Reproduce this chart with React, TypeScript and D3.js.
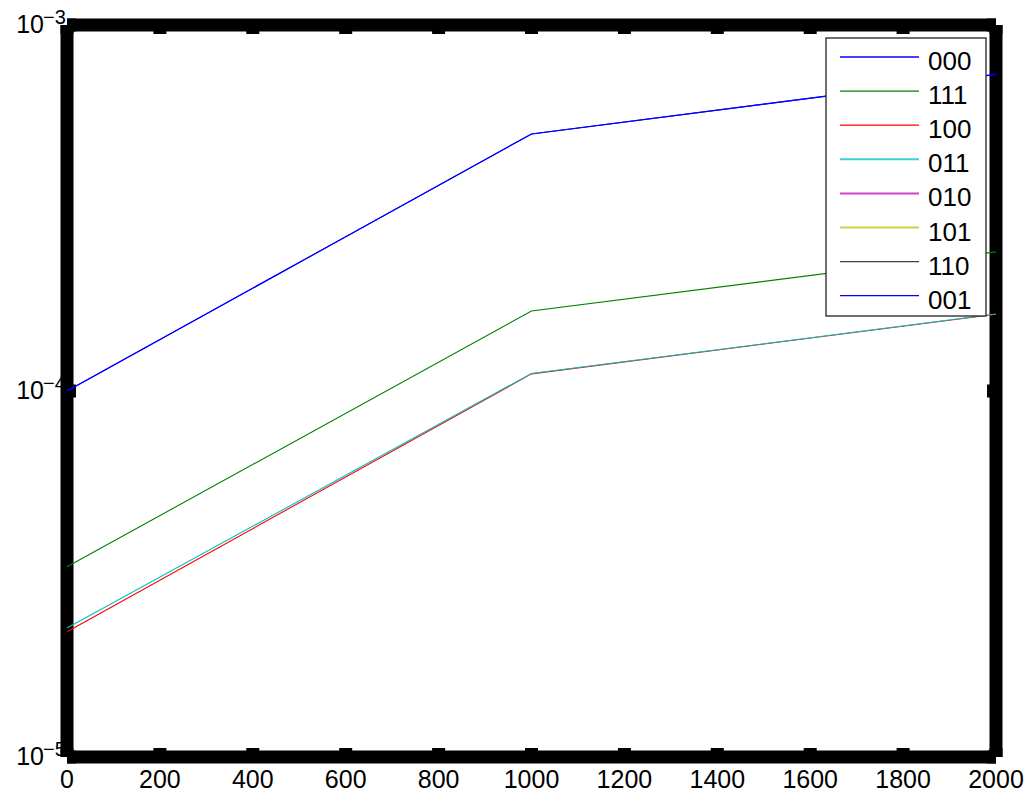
import React from "react";
import * as d3 from "d3";

// x positions of the samples
const xValues = [0, 1000, 2000];

const seriesNames = ["000", "111", "100", "011", "010", "101", "110", "001"];

const seriesColors = [
  "#0000ff", "#008000", "#ff0000", "#00bfbf",
  "#bf00bf", "#bfbf00", "#404040", "#0000ff"
];

// values; 010/101/110 never show on the plot
// (non-positive values are dropped on a log axis)
const s000 = [1.0e-4, 5.04e-4, 7.33e-4];
const s111 = [3.31e-5, 1.654e-4, 2.4e-4];
const s100 = [2.2e-5, 1.114e-4, 1.62e-4];
const s011 = [2.25e-5, 1.117e-4, 1.623e-4];
const s010 = [0, 0, 0];
const s101 = [0, 0, 0];
const s110 = [0, 0, 0];
const s001 = [1.0e-4, 5.04e-4, 7.33e-4];

const seriesValues = [s000, s111, s100, s011, s010, s101, s110, s001];

const xTicks = [0, 200, 400, 600, 800, 1000, 1200, 1400, 1600, 1800, 2000];
const yTicks = [1e-5, 1e-4, 1e-3];
const yTickExp = ["\u22125", "\u22124", "\u22123"];

const W = 1032;
const H = 793;
const font = "'Liberation Sans', Arial, Helvetica, sans-serif";

export default function App() {
  const x = d3.scaleLinear().domain([0, 2000]).range([67, 996]);
  const y = d3.scaleLog().domain([1e-5, 1e-3]).range([757, 25]);

  const line = d3
    .line<number>()
    .defined((d) => d > 0)
    .x((_, i) => x(xValues[i]))
    .y((d) => y(d));

  const [x0, x1] = x.range();
  const [yb, yt] = y.range();
  const frameW = 13;
  const tickLen = 9;

  const legendX = 826;
  const legendY = 38;
  const rowH = 34.1;

  return (
    <svg
      width={W}
      height={H}
      style={{ position: "absolute", left: 0, top: 0, background: "#fff" }}
      fontFamily={font}
    >
      <rect width={W} height={H} fill="#fff" />

      {/* thick axis frame */}
      <g stroke="#000" strokeWidth={frameW} strokeLinecap="butt">
        <line x1={x0} y1={yt} x2={x1} y2={yt} />
        <line x1={x0} y1={yb} x2={x1} y2={yb} />
        <line x1={x0} y1={yt} x2={x0} y2={yb} />
        <line x1={x1} y1={yt} x2={x1} y2={yb} />
        {xTicks.map((t) => (
          <g key={"xt" + t}>
            <line x1={x(t)} y1={yb} x2={x(t)} y2={yb - tickLen} />
            <line x1={x(t)} y1={yt} x2={x(t)} y2={yt + tickLen} />
          </g>
        ))}
        {yTicks.map((t) => (
          <g key={"yt" + t}>
            <line x1={x0} y1={y(t)} x2={x0 + tickLen} y2={y(t)} />
            <line x1={x1} y1={y(t)} x2={x1 - tickLen} y2={y(t)} />
          </g>
        ))}
      </g>

      {/* tick labels */}
      {xTicks.map((t) => (
        <text key={"xl" + t} x={x(t)} y={788} fontSize={25} textAnchor="middle" fill="#000">
          {t}
        </text>
      ))}
      {yTicks.map((t, i) => (
        <g key={"yl" + t}>
          <text x={44} y={y(t) + 8} fontSize={25} textAnchor="end" fill="#000">
            10
          </text>
          <text x={43} y={y(t) - 1} fontSize={20} textAnchor="start" fill="#000">
            {yTickExp[i]}
          </text>
        </g>
      ))}

      {/* data lines */}
      {seriesValues.map((vals, i) => (
        <path
          key={seriesNames[i]}
          d={line(vals) || ""}
          fill="none"
          stroke={seriesColors[i]}
          strokeWidth={1.1}
        />
      ))}

      {/* legend */}
      <rect
        x={legendX}
        y={legendY}
        width={160}
        height={278}
        fill="#fff"
        stroke="#222"
        strokeWidth={1.3}
      />
      {seriesNames.map((name, i) => {
        const ly = legendY + 19 + i * rowH;
        const soft = i >= 3 && i <= 5;
        return (
          <g key={"lg" + name}>
            <line
              x1={840}
              x2={919}
              y1={ly}
              y2={ly}
              stroke={seriesColors[i]}
              strokeOpacity={soft ? 0.75 : 1}
              strokeWidth={soft ? 2 : 1.3}
            />
            <text x={928} y={ly + 13} fontSize={26} fill="#000">
              {name}
            </text>
          </g>
        );
      })}
    </svg>
  );
}
